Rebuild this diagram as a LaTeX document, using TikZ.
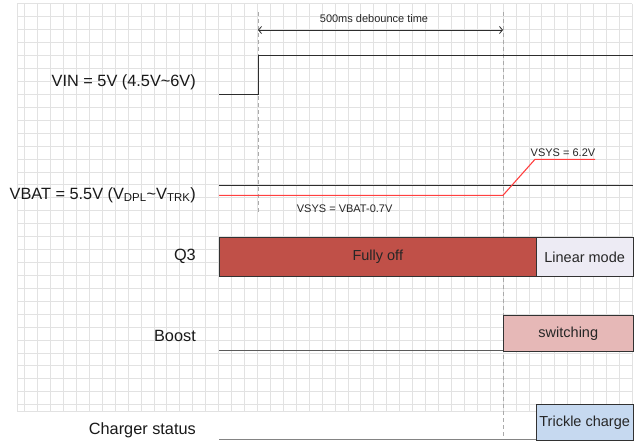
\documentclass[tikz,border=0pt]{standalone}
\usepackage{fontspec}
\setmainfont{Liberation Sans}
\usetikzlibrary{arrows.meta}
\definecolor{gridc}{RGB}{226,226,226}
\definecolor{wavec}{RGB}{45,45,45}
\definecolor{redw}{RGB}{255,64,64}
\definecolor{dashc}{RGB}{170,170,170}
\definecolor{offfill}{RGB}{192,80,72}
\definecolor{linfill}{RGB}{237,235,244}
\definecolor{swfill}{RGB}{230,184,183}
\definecolor{trfill}{RGB}{198,217,240}
\definecolor{boxline}{RGB}{50,50,50}
\tikzset{
  gridline/.style={draw=gridc, line width=0.7pt},
  wave/.style={draw=wavec, line width=1pt},
  redwave/.style={draw=redw, line width=1.1pt},
  timeline/.style={draw=dashc, line width=0.9pt, dash pattern=on 4pt off 3pt},
  siglabel/.style={anchor=east, inner sep=0pt, font=\fontsize{16.3}{19}\selectfont, text=black!90},
  smalltext/.style={inner sep=0pt, font=\fontsize{11}{13}\selectfont, text=black!85},
  statebox/.style={draw=boxline, line width=0.9pt, anchor=north west, inner sep=0pt, font=\fontsize{14.5}{17}\selectfont, text=black!85}
}
\begin{document}
\begin{tikzpicture}[x=1pt, y=-1pt]
\useasboundingbox (0,0) rectangle (640,440);
\fill[white] (0,0) rectangle (640,440);
% grid
\foreach \i in {0,...,47} \draw[gridline] ({24.6+12.93*\i},3.8) -- ({24.6+12.93*\i},411.7);
\draw[gridline] (17.3,3.8) -- (17.3,411.7);
\foreach \j in {-1,...,30} \draw[gridline] (17.3,{16.7+12.93*\j}) -- (632.3,{16.7+12.93*\j});
\draw[gridline] (17.3,411.7) -- (632.3,411.7);

% time markers
\coordinate (t0top) at (258,12);
\coordinate (t0bot) at (258,213);
\coordinate (t1top) at (503,12);
\coordinate (t1bot) at (503,440);
\draw[timeline] (t0top) -- (t0bot);
\draw[timeline] (t1top) -- (t1bot);
\coordinate (a0) at (258,30);
\coordinate (a1) at (503,30);
\draw[draw=wavec, line width=0.8pt, {Straight Barb[length=3pt,width=7pt]}-{Straight Barb[length=3pt,width=7pt]}] (a0) -- (a1);
\node[smalltext] (deb) at (374,19) {500ms debounce time};

% labels
\node[siglabel] (lvin) at (196,82) {VIN = 5V (4.5V\textasciitilde 6V)};
\node[siglabel] (lvbat) at (196,195) {VBAT = 5.5V (V\textsubscript{DPL}\textasciitilde V\textsubscript{TRK})};
\node[siglabel] (lq3) at (196,256) {Q3};
\node[siglabel] (lboost) at (196,336) {Boost};
\node[siglabel] (lchg) at (196,430) {Charger status};

% VIN waveform
\coordinate (v0) at (219,94.3);
\coordinate (v1) at (258,94.3);
\coordinate (v2) at (258,55.7);
\coordinate (v3) at (632.5,55.7);
\draw[wave] (v0) -- (v1) -- (v2) -- (v3);

% VBAT / VSYS
\coordinate (b0) at (219,185);
\coordinate (b1) at (632.5,185);
\draw[wave] (b0) -- (b1);
\coordinate (s0) at (219,195.3);
\coordinate (s1) at (503,195.3);
\coordinate (s2) at (535,159.3);
\coordinate (s3) at (595,159.3);
\draw[redwave] (s0) -- (s1) -- (s2) -- (s3);
\node[smalltext, anchor=west] (vsyshi) at (530.5,152.5) {VSYS = 6.2V};
\node[smalltext, anchor=west] (vsyslo) at (296.7,208.5) {VSYS = VBAT-0.7V};

% Q3
\node[statebox, fill=offfill, minimum width=316.7pt, minimum height=38.4pt] (off) at (219,237.3) {Fully off};
\node[statebox, fill=linfill, minimum width=97pt, minimum height=38.4pt] (lin) at (535.7,237.3) {Linear mode};

% Boost
\coordinate (bo0) at (219,350.7);
\coordinate (bo1) at (503,350.7);
\draw[draw=boxline!80, line width=1pt] (bo0) -- (bo1);
\node[statebox, fill=swfill, minimum width=129.7pt, minimum height=35.7pt] (sw) at (503,315) {switching};

% Charger
\coordinate (c0) at (219,439.5);
\coordinate (c1) at (535.7,439.5);
\draw[draw=boxline!60, line width=1pt] (c0) -- (c1);
\node[statebox, fill=trfill, minimum width=97pt, minimum height=36pt] (tr) at (535.7,404) {Trickle charge};
\end{tikzpicture}
\end{document}
